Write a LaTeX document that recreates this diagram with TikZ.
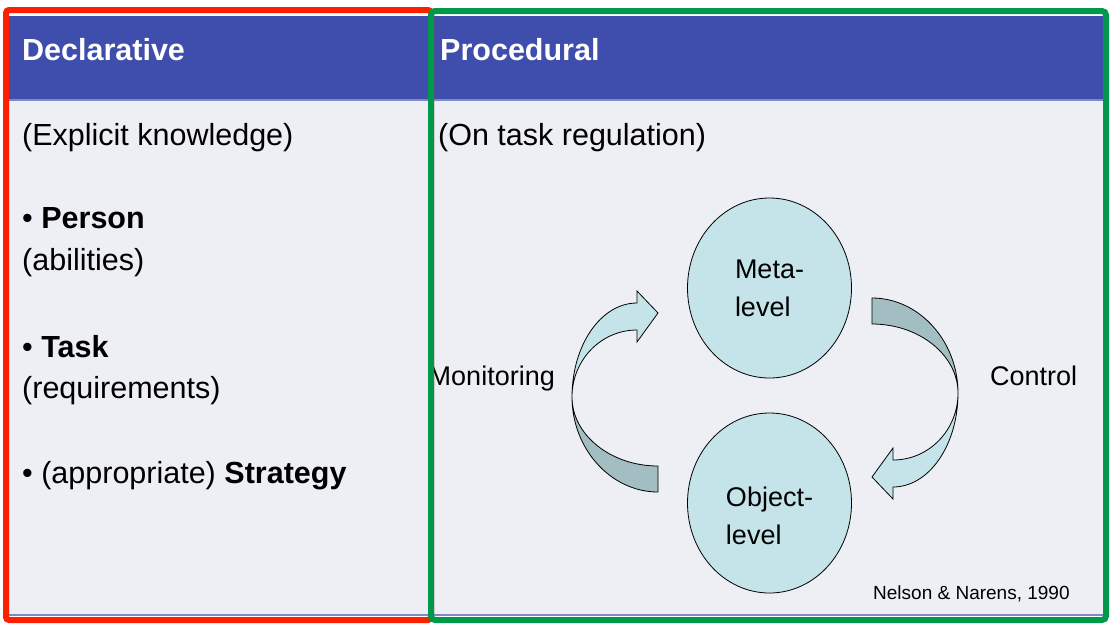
\documentclass[tikz,border=0pt]{standalone}
\usepackage{fontspec}
\setmainfont{Liberation Sans}
\usetikzlibrary{calc, positioning, shapes.geometric}

\definecolor{headblue}{RGB}{63,78,172}
\definecolor{slidegray}{RGB}{237,239,244}
\definecolor{edgeblue}{RGB}{128,136,200}
\definecolor{declred}{RGB}{255,30,0}
\definecolor{procgreen}{RGB}{0,153,76}
\definecolor{levelfill}{RGB}{196,228,234}
\definecolor{ribbondark}{RGB}{162,190,194}

\begin{document}
\begin{tikzpicture}[x=1pt, y=-1pt,
                heading/.style = {
                    anchor=base west, inner sep=0pt,
                    text=white,
                    font=\fontsize{30.5}{36}\selectfont\bfseries
                },
                body/.style = {
                    anchor=base west, inner sep=0pt,
                    font=\fontsize{30.5}{36}\selectfont
                },
                level/.style = {
                    ellipse,
                    draw=black, fill=levelfill,
                    line width=0.8pt, inner sep=0pt,
                    minimum width=164pt, minimum height=180pt,
                    align=left,
                    font=\fontsize{27}{38}\selectfont
                },
                side/.style = {
                    inner sep=0pt,
                    font=\fontsize{27}{32}\selectfont
                },
                ribbon/.pic = {
                    \path[draw=black, fill=ribbondark, line width=0.8pt]
                        (-193,2) .. controls (-193,54) and (-154,97) .. (-107,97)
                        -- (-107,71) .. controls (-154,71) and (-193,40) .. (-193,2) -- cycle;
                    \path[draw=black, fill=levelfill, line width=0.8pt]
                        (-193,2) .. controls (-193,-50) and (-164,-92) .. (-128,-92)
                        -- (-128,-104) -- (-107,-82) -- (-128,-53) -- (-128,-65)
                        .. controls (-164,-65) and (-193,-35) .. (-193,2) -- cycle;
                }
                ]
                \useasboundingbox (0,0) rectangle (1111,625);

                \fill[white] (0,0) rectangle (1111,625);
                \fill[slidegray] (9,100) rectangle (1103,615);
                \fill[headblue] (9,16) rectangle (1103,100);
                \draw[edgeblue, line width=1.5pt] (9,100) -- (1103,100);
                \draw[edgeblue, line width=1.5pt] (9,615) -- (1103,615);

                \node[heading] (decl) at (22,60) {Declarative};
                \node[heading] (proc) at (440,60) {Procedural};

                \node[body] (explicit) at (22,145) {(Explicit knowledge)};
                \node[body, below=83pt of explicit.base west, anchor=base west] (person) {\textbullet\ \textbf{Person}};
                \node[body, below=42pt of person.base west, anchor=base west] (abilities) {(abilities)};
                \node[body, below=87pt of abilities.base west, anchor=base west] (task) {\textbullet\ \textbf{Task}};
                \node[body, below=41pt of task.base west, anchor=base west] (reqs) {(requirements)};
                \node[body, below=85pt of reqs.base west, anchor=base west] (strategy) {\textbullet\ (appropriate) \textbf{Strategy}};

                \node[body] (regulation) at (438,145) {(On task regulation)};

                \node[level] (meta) at (769.5,288) {Meta-\\level};
                \node[level] (object) at (769.5,503) {\rule{0pt}{45pt}Object-\\level};

                \coordinate (hub) at (765,395);
                \pic at (hub) {ribbon};
                \pic[rotate=180] at (hub) {ribbon};

                \node[side, anchor=base east] (monitor) at (555,385) {Monitoring};
                \node[side, anchor=base west] (control) at (990,385) {Control};
                \node[side, anchor=base west, font=\fontsize{19}{23}\selectfont] (cite) at (873,599) {Nelson \& Narens, 1990};

                \draw[declred, line width=6pt, rounded corners=3pt] (6,10) rectangle (431,620);
                \draw[procgreen, line width=6pt, rounded corners=4pt] (431,11) rectangle (1106,620);
            \end{tikzpicture}
\end{document}
